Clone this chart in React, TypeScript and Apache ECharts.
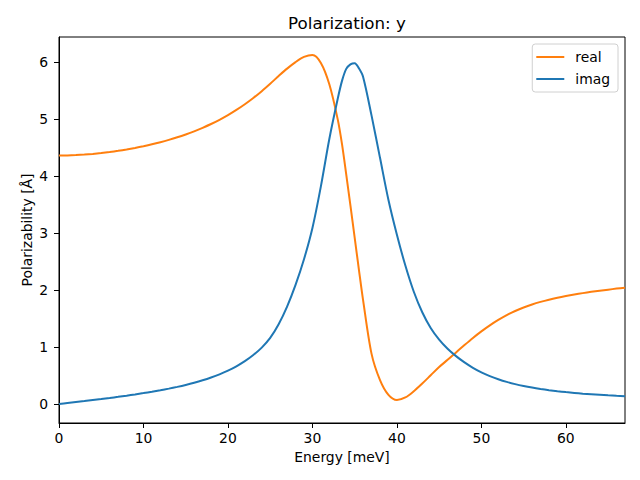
import React, { useEffect, useRef } from "react";
import * as echarts from "echarts";

const energy = [0, 1, 2, 3, 4, 5, 6, 7, 8, 9, 10, 11, 12, 13, 14, 15, 16, 17, 18, 19, 20, 21, 22, 23, 24, 25, 26, 27, 28, 29, 30, 31, 32, 33, 33.5, 34, 34.5, 35, 35.5, 36, 37, 38, 39, 40, 41, 42, 43, 44, 45, 46, 47, 48, 49, 50, 51, 52, 53, 54, 55, 56, 57, 58, 59, 60, 61, 62, 63, 64, 65, 66, 67];
const realValues = [4.36, 4.362, 4.368, 4.377, 4.389, 4.404, 4.422, 4.443, 4.467, 4.494, 4.524, 4.557, 4.594, 4.635, 4.68, 4.73, 4.785, 4.846, 4.913, 4.987, 5.069, 5.16, 5.26, 5.37, 5.49, 5.62, 5.755, 5.885, 6.0, 6.09, 6.125, 5.985, 5.61, 4.99, 4.56, 4.03, 3.48, 2.92, 2.36, 1.82, 0.88, 0.42, 0.16, 0.07, 0.115, 0.225, 0.36, 0.505, 0.65, 0.775, 0.905, 1.035, 1.16, 1.275, 1.38, 1.475, 1.56, 1.632, 1.694, 1.747, 1.792, 1.831, 1.865, 1.895, 1.922, 1.946, 1.968, 1.988, 2.007, 2.025, 2.042];
const imagValues = [0, 0.017, 0.034, 0.051, 0.069, 0.087, 0.106, 0.126, 0.147, 0.169, 0.192, 0.216, 0.242, 0.27, 0.301, 0.335, 0.373, 0.416, 0.465, 0.521, 0.586, 0.662, 0.752, 0.86, 0.99, 1.16, 1.4, 1.71, 2.09, 2.54, 3.09, 3.82, 4.65, 5.36, 5.67, 5.88, 5.96, 5.98, 5.89, 5.74, 5.06, 4.32, 3.58, 2.97, 2.43, 1.97, 1.61, 1.335, 1.13, 0.97, 0.84, 0.73, 0.635, 0.555, 0.49, 0.435, 0.388, 0.349, 0.316, 0.288, 0.264, 0.243, 0.225, 0.209, 0.195, 0.182, 0.171, 0.161, 0.152, 0.144, 0.137];
const xTicks = [0, 10, 20, 30, 40, 50, 60];
const yTicks = [0, 1, 2, 3, 4, 5, 6];

const FONT = "DejaVu Sans";

export default function App() {
  const ref = useRef<HTMLDivElement>(null);
  useEffect(() => {
    if (!ref.current) return;
    const chart = echarts.init(ref.current, undefined, { renderer: "svg" });
    const realData = energy.map((e, i) => [e, realValues[i]]);
    const imagData = energy.map((e, i) => [e, imagValues[i]]);
    const axisLine = { show: true, onZero: false, lineStyle: { color: "#000", width: 1 } };
    chart.setOption({
      animation: false,
      backgroundColor: "#fff",
      textStyle: { fontFamily: FONT },
      title: {
        text: "Polarization: y",
        left: 342,
        textAlign: "center",
        top: 9,
        textStyle: { fontFamily: FONT, fontSize: 16.7, fontWeight: "normal", color: "#000" },
      },
      grid: {
        left: 59,
        top: 37,
        right: 15,
        bottom: 57,
        show: true,
        borderColor: "#000",
        borderWidth: 1,
        backgroundColor: "transparent",
      },
      legend: {
        orient: "vertical",
        right: 22,
        top: 44,
        data: ["real", "imag"],
        icon: "rect",
        itemWidth: 28,
        itemHeight: 2,
        itemGap: 6,
        padding: [5, 8, 5, 4],
        borderColor: "#d0d0d0",
        borderWidth: 1,
        borderRadius: 3,
        backgroundColor: "rgba(255,255,255,0.8)",
        textStyle: { fontFamily: FONT, fontSize: 13.9, color: "#000", lineHeight: 16, padding: [0, 0, 0, 6] },
      },
      xAxis: {
        type: "value",
        min: 0,
        max: 67,
        axisLine,
        splitLine: { show: false },
        name: "Energy [meV]",
        nameLocation: "middle",
        nameGap: 27,
        nameTextStyle: { fontFamily: FONT, fontSize: 13.9, color: "#000" },
        axisTick: { show: true, inside: false, length: 5, customValues: xTicks, lineStyle: { color: "#000" } },
        axisLabel: { customValues: xTicks, margin: 8, fontFamily: FONT, fontSize: 13.9, color: "#000" },
      },
      yAxis: {
        type: "value",
        min: -0.333,
        max: 6.44,
        axisLine,
        splitLine: { show: false },
        name: "Polarizability [Å]",
        nameLocation: "middle",
        nameGap: 25,
        nameMoveOverlap: false,
        nameTextStyle: { fontFamily: FONT, fontSize: 13.9, color: "#000" },
        axisTick: { show: true, inside: false, length: 5, customValues: yTicks, lineStyle: { color: "#000" } },
        axisLabel: { customValues: yTicks, margin: 11, fontFamily: FONT, fontSize: 13.9, color: "#000" },
      },
      series: [
        {
          name: "real",
          type: "line",
          data: realData,
          showSymbol: false,
          smooth: 0.3,
          color: "#ff7f0e",
          lineStyle: { color: "#ff7f0e", width: 2 },
        },
        {
          name: "imag",
          type: "line",
          data: imagData,
          showSymbol: false,
          smooth: 0.3,
          color: "#1f77b4",
          lineStyle: { color: "#1f77b4", width: 2 },
        },
      ],
    });
    return () => chart.dispose();
  }, []);
  return <div ref={ref} style={{ width: 640, height: 480, position: "absolute", left: 0, top: 0 }} />;
}
